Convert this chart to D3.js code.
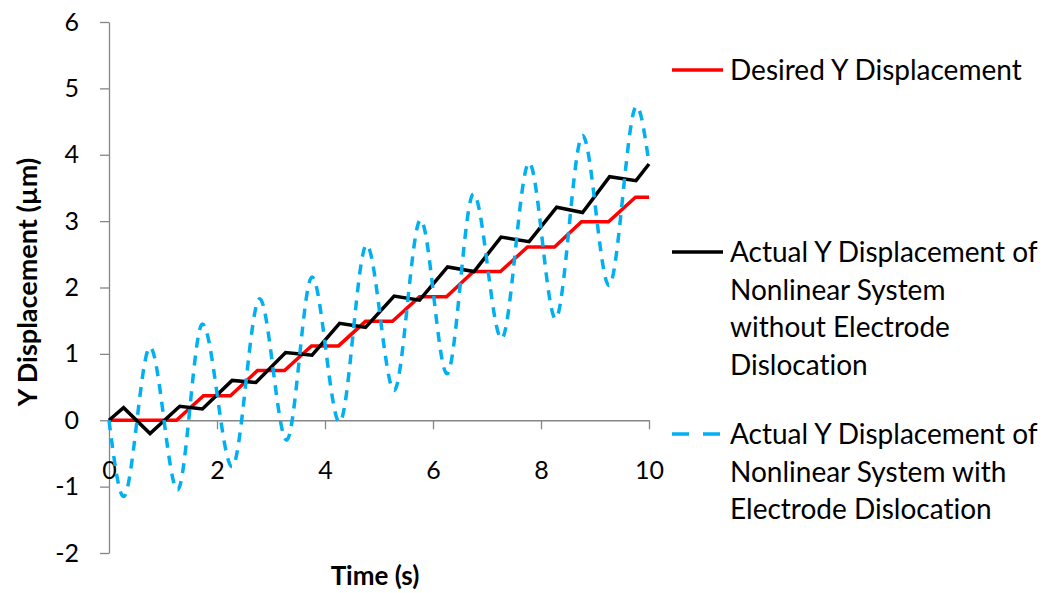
<html>
<head>
<meta charset="utf-8">
<script src="https://d3js.org/d3.v7.min.js"></script>
<style>
body{margin:0;background:#fff;}
text{font-family:Lato, "Open Sans", sans-serif;fill:#000;font-variant-ligatures:none;}
</style>
</head>
<body>
<script>
// values
var timeDesired=[0,1.25,1.75,2.25,2.75,3.25,3.75,4.25,4.75,5.25,5.75,6.25,6.75,7.25,7.75,8.25,8.75,9.25,9.75,10]
var desired=[0,0,0.37,0.37,0.75,0.75,1.12,1.12,1.49,1.49,1.86,1.86,2.24,2.24,2.61,2.61,2.99,2.99,3.36,3.36]

var timeNoDisloc=[0,0.27,0.76,1.31,1.73,2.28,2.72,3.27,3.76,4.27,4.75,5.28,5.75,6.27,6.76,7.26,7.78,8.29,8.77,9.27,9.76,10]
var noDisloc=[0,0.19,-0.2,0.21,0.17,0.6,0.57,1.02,0.98,1.46,1.4,1.87,1.81,2.31,2.24,2.76,2.69,3.21,3.13,3.67,3.61,3.86]

var timeDisloc=[0,0.27,0.76,1.27,1.73,2.28,2.79,3.29,3.76,4.27,4.77,5.28,5.77,6.26,6.75,7.27,7.78,8.27,8.77,9.26,9.77,10]
var disloc=[0,-1.15,1.1,-1.05,1.45,-0.7,1.83,-0.3,2.16,-0.03,2.64,0.45,3.02,0.7,3.41,1.23,3.88,1.53,4.29,2.03,4.73,3.87]

var xTicks=[0,2,4,6,8,10]
var yTicks=[-2,-1,0,1,2,3,4,5,6]

var seriesNames=['Desired Y Displacement',
    ['Actual Y Displacement of','Nonlinear System','without Electrode','Dislocation'],
    ['Actual Y Displacement of','Nonlinear System with','Electrode Dislocation']]

var escalaX=d3.scaleLinear().domain([0,10]).range([109,649])
var escalaY=d3.scaleLinear().domain([-2,6]).range([553,22])

var svg=d3.select('body').append('svg')
    .attr('width',1055)
    .attr('height',593)

svg.append('rect').attr('width',1055).attr('height',593).attr('fill','#fff')

// axes
var ejeY=svg.append('g').attr('transform','translate(109,0)')
    .call(d3.axisLeft(escalaY).tickValues(yTicks).tickSize(9).tickSizeOuter(0).tickPadding(21).tickFormat(d=>String(d)))
var ejeX=svg.append('g').attr('transform','translate(0,'+escalaY(0)+')')
    .call(d3.axisBottom(escalaX).tickValues(xTicks).tickSize(9).tickSizeOuter(0).tickPadding(32).tickFormat(d=>String(d)))

svg.selectAll('.domain, .tick line').attr('stroke','#868686').attr('stroke-width',1.3)
svg.selectAll('.tick text').style('font-size','25px').attr('fill','#000')

svg.append('text').attr('x',375).attr('y',585).attr('text-anchor','middle')
    .style('font-size','26px').style('font-weight','bold').text('Time (s)')
svg.append('text').attr('transform','translate(37,282) rotate(-90)').attr('text-anchor','middle')
    .style('font-size','27px').style('font-weight','bold').text('Y Displacement (µm)')

// lines
var linea=d3.line().x(d=>escalaX(d[0])).y(d=>escalaY(d[1]))

svg.append('path').datum(d3.zip(timeDesired,desired))
    .attr('d',linea).attr('fill','none').attr('stroke','#ff0000').attr('stroke-width',3.5)

svg.append('path').datum(d3.zip(timeNoDisloc,noDisloc))
    .attr('d',linea).attr('fill','none').attr('stroke','#000').attr('stroke-width',3.5)

svg.append('path').datum(d3.zip(timeDisloc,disloc))
    .attr('d',linea.curve(d3.curveMonotoneX)).attr('fill','none').attr('stroke','#00b0f0')
    .attr('stroke-width',3.5).attr('stroke-dasharray','10,8')

// legend
var leyenda=[{y:70,color:'#ff0000',dash:null,lines:[seriesNames[0]]},
    {y:252,color:'#000',dash:null,lines:seriesNames[1]},
    {y:434,color:'#00b0f0',dash:'17,14',lines:seriesNames[2]}]

leyenda.forEach(function(l){
    svg.append('line').attr('x1',672).attr('x2',723).attr('y1',l.y).attr('y2',l.y)
        .attr('stroke',l.color).attr('stroke-width',3.5).attr('stroke-dasharray',l.dash)
    svg.append('text').attr('x',730).attr('y',l.y).style('font-size','28px')
        .selectAll('tspan').data(l.lines).enter().append('tspan')
        .attr('x',730).attr('y',(d,i)=>l.y+i*37.8).attr('dy','0.35em').text(d=>d)
})
</script>
</body>
</html>
